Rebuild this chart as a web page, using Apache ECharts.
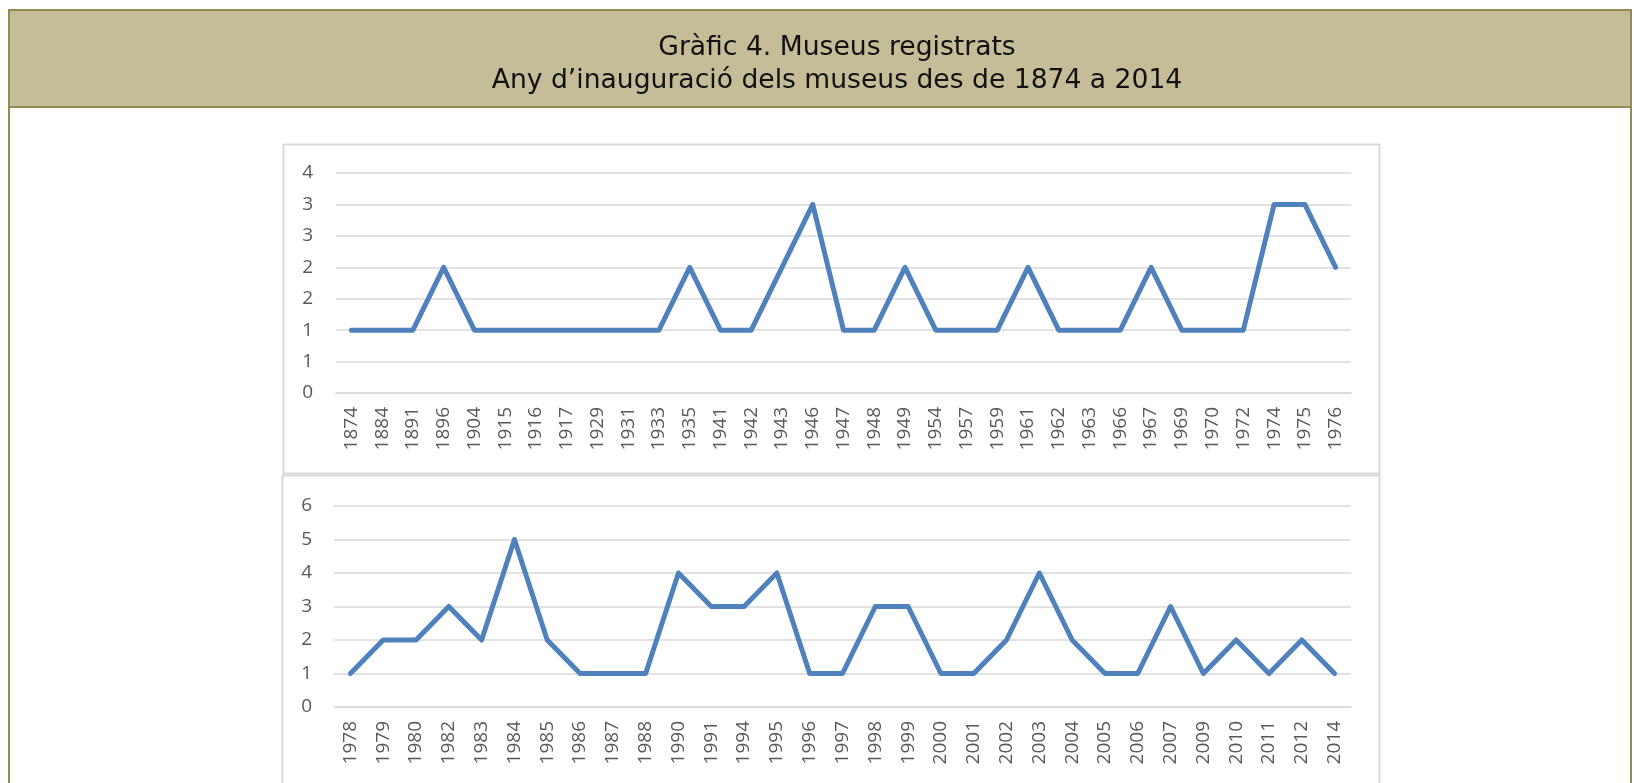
<!DOCTYPE html>
<html>
<head>
    <meta charset="utf-8"/>
    <title>Museus registrats</title>
    <script src="https://cdn.jsdelivr.net/npm/echarts@6.0.0/dist/echarts.min.js"></script>
    <style>
        html, body { margin: 0; padding: 0; background: #fff; }
    </style>
</head>
<body>
<div id="chart" style="width: 1634px;height:783px;"></div>
<script type="text/javascript">
    // primer tram: 1874 - 1976
    var years1 = ['1874', '1884', '1891', '1896', '1904', '1915', '1916', '1917', '1929', '1931', '1933',
        '1935', '1941', '1942', '1943', '1946', '1947', '1948', '1949', '1954', '1957', '1959',
        '1961', '1962', '1963', '1966', '1967', '1969', '1970', '1972', '1974', '1975', '1976'];
    var museus1 = [1, 1, 1, 2, 1, 1, 1, 1, 1, 1, 1,
        2, 1, 1, 2, 3, 1, 1, 2, 1, 1, 1,
        2, 1, 1, 1, 2, 1, 1, 1, 3, 3, 2];

    // segon tram: 1978 - 2014
    var years2 = ['1978', '1979', '1980', '1982', '1983', '1984', '1985', '1986', '1987', '1988', '1990',
        '1991', '1994', '1995', '1996', '1997', '1998', '1999', '2000', '2001', '2002', '2003',
        '2004', '2005', '2006', '2007', '2009', '2010', '2011', '2012', '2014'];
    var museus2 = [1, 2, 2, 3, 2, 5, 2, 1, 1, 1, 4,
        3, 3, 4, 1, 1, 3, 3, 1, 1, 2, 4,
        2, 1, 1, 3, 1, 2, 1, 2, 1];

    var titol = 'Gràfic 4. Museus registrats\nAny d\u2019inauguració dels museus des de 1874 a 2014';

    var labelFont = { fontFamily: 'Open Sans', fontSize: 19, color: '#595959' };
    var grisLinia = '#d9d9d9';
    var blau = '#4f81bd';

    function eixX(idx, cats) {
        return {
            type: 'category',
            gridIndex: idx,
            data: cats,
            boundaryGap: true,
            axisLine: { show: true, lineStyle: { color: grisLinia, width: 1.5 } },
            axisTick: { show: false },
            axisLabel: Object.assign({ rotate: 90, interval: 0, margin: 14 }, labelFont)
        };
    }

    function eixY(idx, max, step, margin) {
        return {
            type: 'value',
            gridIndex: idx,
            min: 0,
            max: max,
            interval: step,
            axisLine: { show: false },
            axisTick: { show: false },
            splitLine: { lineStyle: { color: grisLinia, width: 1.5 } },
            axisLabel: Object.assign({
                margin: margin,
                formatter: function (v) { return Math.round(v); }
            }, labelFont)
        };
    }

    function serie(idx, values) {
        return {
            type: 'line',
            xAxisIndex: idx,
            yAxisIndex: idx,
            data: values,
            symbol: 'none',
            lineStyle: { color: blau, width: 5, cap: 'round', join: 'round' }
        };
    }

    var option = {
        animation: false,
        backgroundColor: '#fff',
        title: {
            text: titol,
            left: 832,
            top: 27,
            textAlign: 'center',
            textStyle: {
                fontFamily: '"DejaVu Sans", Verdana, sans-serif',
                fontSize: 26.6,
                fontWeight: 'normal',
                color: '#111',
                lineHeight: 33
            }
        },
        graphic: [
            {
                type: 'rect', z: 0,
                shape: { x: 9, y: 10, width: 1622, height: 820 },
                style: { fill: '#fff', stroke: '#948a54', lineWidth: 2 }
            },
            {
                type: 'rect', z: 1,
                shape: { x: 9, y: 10, width: 1622, height: 97 },
                style: { fill: '#c4bd97', stroke: '#948a54', lineWidth: 2 }
            },
            {
                type: 'rect', z: 1,
                shape: { x: 283.5, y: 144.5, width: 1096, height: 329 },
                style: { fill: 'transparent', stroke: grisLinia, lineWidth: 2 }
            },
            {
                type: 'rect', z: 1,
                shape: { x: 282.5, y: 475.5, width: 1097, height: 340 },
                style: { fill: 'transparent', stroke: grisLinia, lineWidth: 2 }
            }
        ],
        grid: [
            { left: 336, width: 1015, top: 173, height: 220 },
            { left: 334, width: 1017, top: 506, height: 201 }
        ],
        xAxis: [eixX(0, years1), eixX(1, years2)],
        yAxis: [eixY(0, 3.5, 0.5, 23), eixY(1, 6, 1, 22)],
        series: [serie(0, museus1), serie(1, museus2)]
    };

    var chart = echarts.init(document.getElementById('chart'));
    chart.setOption(option);
</script>
</body>
</html>
